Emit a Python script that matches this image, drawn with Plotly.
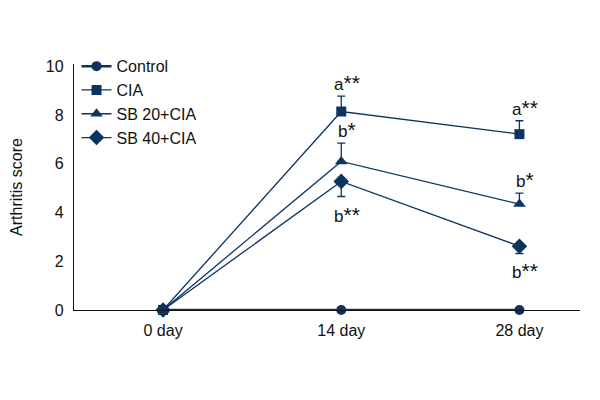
import plotly.graph_objects as go

days = ["0 day", "14 day", "28 day"]
xpos = [0, 1, 2]
control = [0, 0, 0]
cia = [0, 8.15, 7.22]
cia_err = [0, 0.63, 0.55]
sb20 = [0, 6.1, 4.35]
sb20_err = [0, 0.75, 0.45]
sb40 = [0, 5.28, 2.62]
sb40_err = [0, 0.62, 0.3]

C = "#0d3461"
FONT = "Liberation Sans, Arial, sans-serif"

fig = go.Figure()
fig.add_trace(go.Scatter(x=xpos, y=control, name="Control", mode="lines+markers", cliponaxis=False,
                         line=dict(color=C, width=2.5), marker=dict(symbol="circle", size=10, color=C)))
fig.add_trace(go.Scatter(x=xpos, y=cia, name="CIA", mode="lines+markers", cliponaxis=False,
                         line=dict(color=C, width=1.3), marker=dict(symbol="square", size=10, color=C),
                         error_y=dict(type="data", array=cia_err, arrayminus=[0, 0, 0], color=C, thickness=1.3, width=4)))
fig.add_trace(go.Scatter(x=xpos, y=sb20, name="SB 20+CIA", mode="lines+markers", cliponaxis=False,
                         line=dict(color=C, width=1.3), marker=dict(symbol="triangle-up", size=11, color=C),
                         error_y=dict(type="data", array=sb20_err, arrayminus=[0, 0, 0], color=C, thickness=1.3, width=4)))
fig.add_trace(go.Scatter(x=xpos, y=sb40, name="SB 40+CIA", mode="lines+markers", cliponaxis=False,
                         line=dict(color=C, width=1.3), marker=dict(symbol="diamond", size=12, color=C),
                         error_y=dict(type="data", array=[0, 0, 0], arrayminus=sb40_err, color=C, thickness=1.3, width=4)))

ann = [
    (1, 8.15 + 0.63, "a<span style='font-size:21px'>**</span>", "bottom"),
    (1, 6.1 + 0.75, "b<span style='font-size:21px'>*</span>", "bottom"),
    (1, 5.28 - 0.62, "b<span style='font-size:21px'>**</span>", "top"),
    (2, 7.22 + 0.55, "a<span style='font-size:21px'>**</span>", "bottom"),
    (2, 4.35 + 0.45, "b<span style='font-size:21px'>*</span>", "bottom"),
    (2, 2.62 - 0.3, "b<span style='font-size:21px'>**</span>", "top"),
]
for x, y, t, ya in ann:
    fig.add_annotation(x=x, y=y, text=t, showarrow=False, yanchor=ya, xanchor="center",
                       yshift=0 if ya == "bottom" else -4, xshift=6,
                       font=dict(family=FONT, size=17, color="#111"))

fig.update_layout(
    width=592, height=392, margin=dict(l=66, r=20, t=56, b=90, autoexpand=False),
    paper_bgcolor="white", plot_bgcolor="white",
    font=dict(family=FONT, size=16, color="#111"),
    showlegend=True,
    legend=dict(x=0.005, y=1.06, xanchor="left", yanchor="top", bgcolor="rgba(0,0,0,0)",
                font=dict(family=FONT, size=16, color="#111"), tracegroupgap=0, itemwidth=30),
    xaxis=dict(range=[-0.5, 2.34], tickvals=xpos, ticktext=days, showgrid=False, zeroline=False,
               automargin=False, ticklabelstandoff=6,
               showline=True, linecolor="#111", linewidth=1.3, ticks="", tickfont=dict(size=16)),
    yaxis=dict(range=[0, 10.1], tickvals=[0, 2, 4, 6, 8, 10], showgrid=False, zeroline=False,
               automargin=False, ticklabelstandoff=6,
               showline=True, linecolor="#111", linewidth=1.3, ticks="", ticklen=0,
               title=dict(text="Arthritis score", font=dict(size=16), standoff=22),
               tickfont=dict(size=16)),
)
fig.write_html("out.html")
